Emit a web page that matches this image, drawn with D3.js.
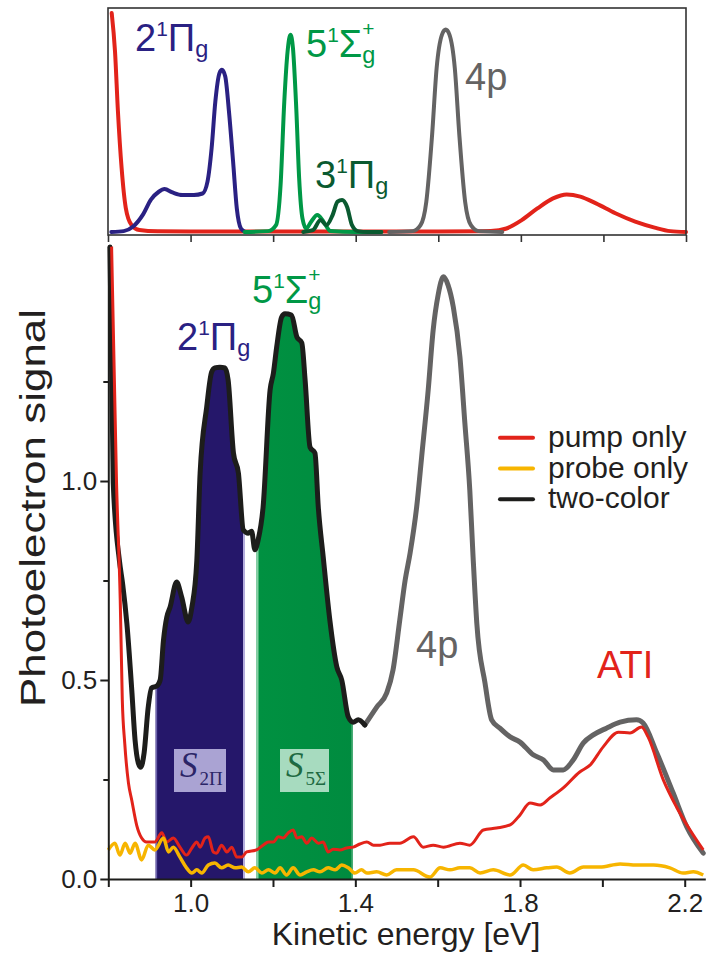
<!DOCTYPE html>
<html><head><meta charset="utf-8">
<script src="https://cdn.jsdelivr.net/npm/d3@7"></script>
<style>html,body{margin:0;padding:0;background:#fff;} svg{display:block;font-family:"Liberation Sans",Arial,sans-serif;}</style>
</head><body>
<script>
// ---------------- DATA ----------------
// Top panel (reference spectra), [energy eV, arbitrary intensity]
const topPump = [[0.809,0.995],[0.817,0.82],[0.824,0.55],[0.833,0.29],[0.843,0.11],[0.857,0.032],[0.876,0.009],[0.92,0.003],[1.0,0.002],[1.2,0.002],[1.4,0.002],[1.6,0.002],[1.70,0.003],[1.727,0.004],[1.765,0.016],[1.802,0.054],[1.840,0.107],[1.878,0.153],[1.911,0.171],[1.944,0.161],[1.982,0.13],[2.029,0.085],[2.077,0.047],[2.124,0.02],[2.162,0.004],[2.2,0.0]];
const top2Pi = [[0.808,0],[0.838,0.004],[0.861,0.025],[0.885,0.08],[0.904,0.147],[0.923,0.183],[0.937,0.195],[0.956,0.18],[0.980,0.168],[1.008,0.168],[1.029,0.175],[1.041,0.229],[1.051,0.381],[1.060,0.593],[1.070,0.722],[1.076,0.737],[1.084,0.707],[1.093,0.548],[1.103,0.32],[1.112,0.107],[1.122,0.016],[1.133,0]];
const top5Sigma = [[1.131,0],[1.188,0.004],[1.207,0.031],[1.218,0.213],[1.227,0.593],[1.235,0.821],[1.242,0.897],[1.248,0.836],[1.256,0.562],[1.263,0.244],[1.271,0.062],[1.280,0.016],[1.292,0.047],[1.307,0.077],[1.322,0.047],[1.339,0.004],[1.40,0.0],[1.462,0]];
const top3Pi = [[1.273,0],[1.296,0.008],[1.315,0.054],[1.329,0.031],[1.344,0.077],[1.356,0.138],[1.367,0.146],[1.379,0.115],[1.391,0.031],[1.405,0.004],[1.43,0.0],[1.462,0]];
const top4p = [[1.481,0],[1.538,0.004],[1.557,0.031],[1.571,0.138],[1.585,0.441],[1.596,0.745],[1.609,0.897],[1.618,0.92],[1.627,0.897],[1.640,0.745],[1.651,0.441],[1.665,0.138],[1.679,0.031],[1.698,0.004],[1.755,0]];

// Main panel, [kinetic energy eV, photoelectron signal]
const twoColor = [[0.804,1.588],[0.812,0.995],[0.827,0.80],[0.835,0.74],[0.845,0.643],[0.857,0.475],[0.865,0.349],[0.873,0.291],[0.879,0.281],[0.887,0.317],[0.897,0.432],[0.905,0.480],[0.918,0.485],[0.926,0.50],[0.934,0.60],[0.942,0.658],[0.950,0.683],[0.966,0.746],[0.978,0.709],[0.994,0.646],[1.003,0.683],[1.015,0.80],[1.023,1.02],[1.039,1.186],[1.051,1.274],[1.059,1.284],[1.071,1.286],[1.083,1.284],[1.091,1.254],[1.104,1.070],[1.116,1.020],[1.128,0.877],[1.140,0.869],[1.148,0.874],[1.156,0.827],[1.164,0.852],[1.176,0.935],[1.193,1.229],[1.201,1.271],[1.209,1.337],[1.221,1.412],[1.229,1.420],[1.245,1.417],[1.258,1.362],[1.270,1.347],[1.278,1.254],[1.290,1.085],[1.302,1.070],[1.310,0.935],[1.322,0.809],[1.338,0.651],[1.355,0.533],[1.367,0.50],[1.383,0.407],[1.395,0.394],[1.407,0.40],[1.423,0.387],[1.452,0.432],[1.476,0.467],[1.4915,0.525],[1.508,0.651],[1.521,0.751],[1.533,0.819],[1.549,0.935],[1.561,1.060],[1.577,1.229],[1.589,1.379],[1.601,1.467],[1.614,1.513],[1.625,1.493],[1.638,1.437],[1.654,1.312],[1.666,1.146],[1.678,0.977],[1.686,0.809],[1.695,0.643],[1.715,0.492],[1.731,0.40],[1.751,0.379],[1.776,0.357],[1.80,0.344],[1.832,0.312],[1.857,0.299],[1.881,0.274],[1.905,0.274],[1.929,0.299],[1.954,0.342],[1.978,0.362],[2.010,0.379],[2.043,0.394],[2.083,0.40],[2.099,0.392],[2.132,0.317],[2.172,0.216],[2.205,0.131],[2.245,0.065]];
const grayFrom = 1.423; // two-color trace drawn grey (4p) above this energy

const pumpOnly = [[0.808,1.589],[0.820,0.995],[0.829,0.70],[0.834,0.45],[0.840,0.34],[0.849,0.241],[0.857,0.198],[0.869,0.135],[0.881,0.103],[0.893,0.093],[0.913,0.093],[0.930,0.116],[0.942,0.093],[0.958,0.103],[0.974,0.080],[0.990,0.060],[1.003,0.078],[1.015,0.093],[1.023,0.080],[1.035,0.103],[1.043,0.106],[1.055,0.068],[1.063,0.065],[1.075,0.085],[1.088,0.068],[1.100,0.080],[1.112,0.055],[1.124,0.055],[1.136,0.068],[1.160,0.073],[1.176,0.085],[1.189,0.093],[1.201,0.093],[1.213,0.106],[1.225,0.103],[1.237,0.116],[1.249,0.123],[1.258,0.103],[1.270,0.106],[1.282,0.090],[1.294,0.103],[1.310,0.090],[1.322,0.093],[1.334,0.068],[1.346,0.075],[1.363,0.073],[1.379,0.078],[1.395,0.080],[1.411,0.088],[1.428,0.093],[1.444,0.085],[1.460,0.085],[1.484,0.090],[1.508,0.090],[1.541,0.106],[1.565,0.080],[1.589,0.085],[1.614,0.080],[1.654,0.090],[1.678,0.085],[1.711,0.123],[1.743,0.128],[1.776,0.136],[1.80,0.161],[1.824,0.191],[1.849,0.186],[1.873,0.204],[1.905,0.229],[1.945,0.269],[1.970,0.286],[2.002,0.332],[2.039,0.369],[2.067,0.367],[2.095,0.382],[2.111,0.357],[2.148,0.249],[2.180,0.181],[2.213,0.123],[2.245,0.073]];

const probeOnly = [[0.80,0.073],[0.816,0.090],[0.828,0.060],[0.841,0.090],[0.853,0.065],[0.865,0.090],[0.881,0.048],[0.897,0.085],[0.913,0.073],[0.934,0.103],[0.946,0.068],[0.958,0.080],[0.974,0.055],[0.990,0.028],[1.003,0.015],[1.015,0.023],[1.027,0.015],[1.043,0.035],[1.059,0.040],[1.075,0.028],[1.091,0.035],[1.108,0.028],[1.124,0.030],[1.140,0.018],[1.156,0.028],[1.173,0.015],[1.189,0.023],[1.205,0.015],[1.217,0.028],[1.233,0.010],[1.249,0.028],[1.266,0.010],[1.282,0.018],[1.298,0.023],[1.314,0.018],[1.334,0.028],[1.351,0.023],[1.367,0.035],[1.383,0.028],[1.399,0.015],[1.415,0.023],[1.428,0.015],[1.452,0.018],[1.476,0.010],[1.500,0.023],[1.541,0.023],[1.581,0.005],[1.606,0.028],[1.630,0.023],[1.654,0.028],[1.678,0.028],[1.703,0.015],[1.735,0.023],[1.776,0.010],[1.808,0.035],[1.832,0.023],[1.865,0.028],[1.889,0.030],[1.921,0.015],[1.954,0.030],[1.994,0.030],[2.043,0.038],[2.083,0.035],[2.124,0.035],[2.164,0.028],[2.196,0.015],[2.221,0.018],[2.245,0.010]];

const band2Pi = [0.915, 1.132];   // integration window S_2Π
const band5Sigma = [1.160, 1.394]; // integration window S_5Σ

const xTickValues = [0.8,1.0,1.2,1.4,1.6,1.8,2.0,2.2];
const xLabelled = [1.0,1.4,1.8,2.2];
const yTickValues = [0.0,0.5,1.0];
const yMinorTicks = [0.25,0.75,1.25];
const legendItems = [["pump only","#e2231a"],["probe only","#f7b500"],["two-color","#1d1d1b"]];

// ---------------- CHART ----------------
const W=710,H=961;
const svg = d3.select("body").append("svg").attr("width",W).attr("height",H);

const C = {red:"#e2231a", yellow:"#f7b500", black:"#1d1d1b", gray:"#646363",
  navy:"#2a2183", navyFill:"#25176a", green:"#009846", dgreen:"#0a5a30"};

// ===== top panel =====
const xT = d3.scaleLinear().domain([0.8,2.2]).range([108,686]);
const yT = d3.scaleLinear().domain([0,1]).range([232,12]);
const gT = svg.append("g");
const lineT = d3.line().x(d=>xT(d[0])).y(d=>yT(d[1])).curve(d3.curveMonotoneX);
[[topPump,C.red],[top2Pi,C.navy],[top5Sigma,C.green],[top3Pi,C.dgreen],[top4p,C.gray]].forEach(([d,c])=>{
  gT.append("path").datum(d).attr("d",lineT).attr("fill","none").attr("stroke",c)
    .attr("stroke-width",4).attr("stroke-linecap","round").attr("stroke-linejoin","round");
});
gT.append("rect").attr("x",xT(0.8)).attr("y",8).attr("width",xT(2.2)-xT(0.8)).attr("height",227)
  .attr("fill","none").attr("stroke","#333").attr("stroke-width",1.6);
const axT = gT.append("g").attr("transform","translate(0,235)")
  .call(d3.axisBottom(xT).tickValues(xTickValues).tickSize(7).tickSizeOuter(0).tickFormat(""));
axT.select(".domain").remove();
axT.selectAll("line").attr("stroke","#333").attr("stroke-width",1.6);

// ===== main panel =====
const x = d3.scaleLinear().domain([0.8,2.25]).range([108.3,705.3]);
const y = d3.scaleLinear().domain([0,1.59]).range([879,246.2]);
const g = svg.append("g");
const defs = svg.append("defs");
const grad = defs.append("linearGradient").attr("id","gfill").attr("x1","0").attr("x2","1").attr("y1","0").attr("y2","0");
grad.append("stop").attr("offset","0%").attr("stop-color","#009a44");
grad.append("stop").attr("offset","100%").attr("stop-color","#007638");
function clipRect(id,x0,x1){
  defs.append("clipPath").attr("id",id).append("rect").attr("x",x0).attr("y",0)
    .attr("width",x1-x0).attr("height",y(0));
}
clipRect("c2pi",x(band2Pi[0]),x(band2Pi[1]));
clipRect("c5s",x(band5Sigma[0]),x(band5Sigma[1]));
clipRect("e2piL",x(band2Pi[0]),x(band2Pi[0])+1.5);
clipRect("e2piR",x(band2Pi[1])-2,x(band2Pi[1]));
clipRect("e5sL",x(band5Sigma[0]),x(band5Sigma[0])+2);
clipRect("e5sR",x(band5Sigma[1])-1.5,x(band5Sigma[1]));
const area = d3.area().x(d=>x(d[0])).y0(y(0)).y1(d=>y(d[1])).curve(d3.curveMonotoneX);
g.append("path").datum(twoColor).attr("d",area).attr("fill",C.navyFill).attr("clip-path","url(#c2pi)");
g.append("path").datum(twoColor).attr("d",area).attr("fill","url(#gfill)").attr("clip-path","url(#c5s)");
[["e2piL","#6d64ad"],["e2piR","#b4addd"],["e5sL","#86d0a4"],["e5sR","#4fae7a"]].forEach(([id,c])=>{
  g.append("path").datum(twoColor).attr("d",area).attr("fill",c).attr("clip-path",`url(#${id})`);
});

// S labels
function sBox(x0,w,fill,tc,sub){
  g.append("rect").attr("x",x0).attr("y",749).attr("width",w).attr("height",43).attr("fill",fill);
  const t = g.append("text").attr("x",x0+6).attr("y",777).attr("fill",tc)
    .style("font-family","'Liberation Serif','DejaVu Serif',serif");
  t.append("tspan").style("font-style","italic").style("font-size","35px").text("S");
  t.append("tspan").attr("dx",2).attr("dy",8).style("font-size","19px").text(sub);
}
sBox(174,52,"#aaa3d3","#2b2567","2Π");
sBox(280,49,"#a7dbbf","#1e6a42","5Σ");

const line = d3.line().x(d=>x(d[0])).y(d=>y(d[1])).curve(d3.curveMonotoneX);
g.append("path").datum(twoColor.filter(d=>d[0]>=grayFrom)).attr("d",line).attr("fill","none")
  .attr("stroke",C.gray).attr("stroke-width",5).attr("stroke-linejoin","round").attr("stroke-linecap","round");
g.append("path").datum(twoColor.filter(d=>d[0]<=grayFrom)).attr("d",line).attr("fill","none")
  .attr("stroke",C.black).attr("stroke-width",5).attr("stroke-linejoin","round").attr("stroke-linecap","round");
g.append("path").datum(pumpOnly).attr("d",line).attr("fill","none")
  .attr("stroke",C.red).attr("stroke-width",3).attr("stroke-linejoin","round");
g.append("path").datum(probeOnly).attr("d",line).attr("fill","none")
  .attr("stroke",C.yellow).attr("stroke-width",3.5).attr("stroke-linejoin","round");

// axes
const ax = g.append("g").attr("transform",`translate(0,${y(0)})`)
  .call(d3.axisBottom(x).tickValues(xTickValues).tickSize(8).tickSizeOuter(0).tickPadding(7)
    .tickFormat(d=>xLabelled.some(v=>Math.abs(v-d)<1e-9)?d3.format(".1f")(d):""));
const ay = g.append("g").attr("transform",`translate(${x(0.8)},0)`)
  .call(d3.axisLeft(y).tickValues(yTickValues).tickSize(8).tickSizeOuter(0).tickPadding(3).tickFormat(d3.format(".1f")));
const aym = g.append("g").attr("transform",`translate(${x(0.8)},0)`)
  .call(d3.axisLeft(y).tickValues(yMinorTicks).tickSize(5).tickFormat(""));
aym.select(".domain").remove();
[ax,ay,aym].forEach(a=>{
  a.selectAll(".domain").attr("stroke","#1d1d1b").attr("stroke-width",2);
  a.selectAll("line").attr("stroke","#1d1d1b").attr("stroke-width",2);
  a.selectAll("text").attr("fill","#231f20").style("font-size","26px").style("font-family","'Liberation Sans',Arial,sans-serif");
});

svg.append("text").attr("x",406).attr("y",945).attr("text-anchor","middle")
  .attr("fill","#231f20").style("font-size","32px").text("Kinetic energy [eV]");
svg.append("text").attr("transform","translate(45,508) rotate(-90)").attr("text-anchor","middle")
  .attr("fill","#231f20").style("font-size","35px").attr("textLength",398).attr("lengthAdjust","spacingAndGlyphs")
  .text("Photoelectron signal");

// legend
const lg = svg.append("g");
legendItems.forEach(([t,c],i)=>{
  const yy = 437.7 + i*30.8;
  lg.append("line").attr("x1",500).attr("x2",533).attr("y1",yy).attr("y2",yy)
    .attr("stroke",c).attr("stroke-width",4).attr("stroke-linecap","round");
  lg.append("text").attr("x",548).attr("y",yy+9).attr("fill","#231f20").style("font-size","30px").text(t);
});

// state labels
function term(x0,y0,color,size,base,sup,sym,sub,sup2){
  const t = svg.append("text").attr("x",x0).attr("y",y0).attr("fill",color).style("font-size",size+"px");
  t.append("tspan").text(base);
  t.append("tspan").attr("dy",-0.39*size).style("font-size",(0.55*size)+"px").text(sup);
  t.append("tspan").attr("dy",0.39*size).text(sym);
  const gs = 0.62*size;
  t.append("tspan").attr("dy",0.16*size).style("font-size",gs+"px").text(sub);
  if(sup2){
    t.append("tspan").attr("dx",-0.556*gs).attr("dy",-0.72*size).style("font-size",(0.55*size)+"px").text(sup2);
  }
}
term(135,51,C.navy,38,"2","1","Π","g");
term(306,57,C.green,38,"5","1","Σ","g","+");
term(315,188,C.dgreen,38,"3","1","Π","g");
svg.append("text").attr("x",465).attr("y",90).attr("fill",C.gray).style("font-size","38px").text("4p");
term(177,350,C.navy,38,"2","1","Π","g");
term(252,303,C.green,38,"5","1","Σ","g","+");
svg.append("text").attr("x",416).attr("y",658).attr("fill",C.gray).style("font-size","38px").text("4p");
svg.append("text").attr("x",597).attr("y",678).attr("fill",C.red).style("font-size","38px").text("ATI");
</script>
</body></html>
